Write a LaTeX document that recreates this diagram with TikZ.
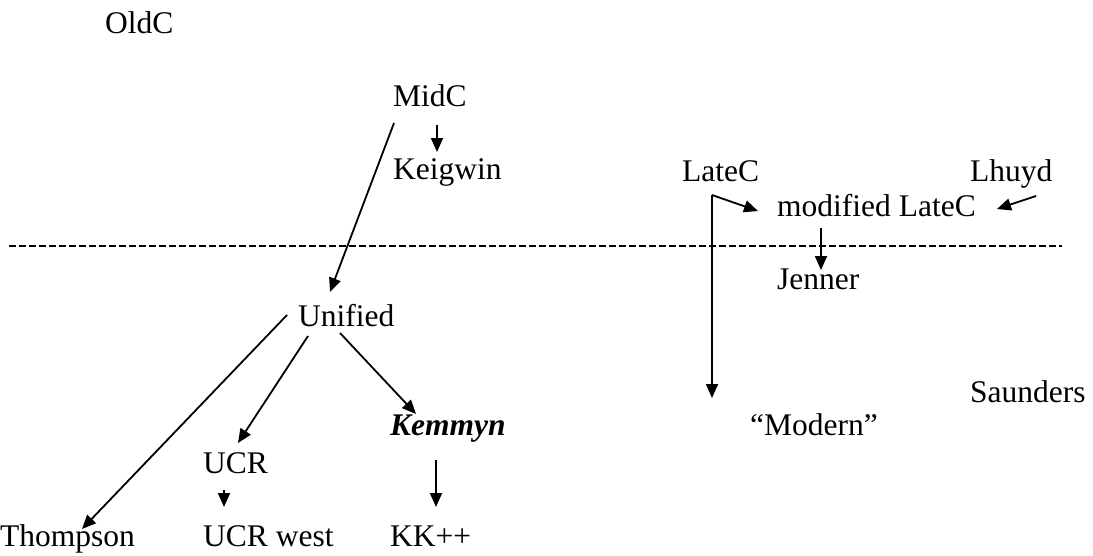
\documentclass[tikz,border=0pt]{standalone}
\usepackage{fontspec}
\setmainfont{Liberation Serif}
\usetikzlibrary{arrows.meta}
\begin{document}
\begin{tikzpicture}[x=1pt,y=-1pt,
  lbl/.style={anchor=base west,inner sep=0pt,font=\fontsize{31.5}{36}\selectfont},
  arr/.style={line width=1.8pt,-{Triangle[length=14pt,width=12pt]}},
  sep/.style={line width=2.2pt,dash pattern=on 7pt off 3pt}]
\useasboundingbox (0,0) rectangle (1093,555);
\node[lbl] (oldc) at (105,33) {OldC};
\node[lbl] (midc) at (393,106) {MidC};
\node[lbl] (keigwin) at (393,179) {Keigwin};
\node[lbl] (latec) at (682,181) {LateC};
\node[lbl] (lhuyd) at (970,181) {Lhuyd};
\node[lbl] (modlate) at (777,216) {modified LateC};
\node[lbl] (jenner) at (777,289) {Jenner};
\node[lbl] (unified) at (298,326) {Unified};
\node[lbl] (saunders) at (970,402) {Saunders};
\node[lbl] (modern) at (750,435) {“Modern”};
\node[lbl] (kemmyn) at (390,435) {\textbf{\textit{Kemmyn}}};
\node[lbl] (ucr) at (203,473) {UCR};
\node[lbl] (thompson) at (0,546) {Thompson};
\node[lbl] (ucrwest) at (203,546) {UCR west};
\node[lbl] (kk) at (390,546) {KK++};

\draw[sep] (9,246) -- (1062,246);

\draw[arr] ([shift={(44pt,-19pt)}]midc.base west) -- ([shift={(44pt,27pt)}]keigwin.base west);
\draw[arr] ([shift={(1pt,-17pt)}]midc.base west) -- ([shift={(32pt,34pt)}]unified.base west);
\draw[arr] ([shift={(-11pt,11pt)}]unified.base west) -- ([shift={(82pt,17pt)}]thompson.base west);
\draw[arr] ([shift={(10pt,-10pt)}]unified.base west) -- ([shift={(35pt,30pt)}]ucr.base west);
\draw[arr] ([shift={(42pt,-7pt)}]unified.base west) -- ([shift={(26pt,21pt)}]kemmyn.base west);
\draw[arr] ([shift={(21pt,-17pt)}]ucr.base west) -- ([shift={(21pt,39pt)}]ucrwest.base west);
\draw[arr] ([shift={(46pt,-25pt)}]kemmyn.base west) -- ([shift={(46pt,39pt)}]kk.base west);
\coordinate (lcorner) at ([shift={(30pt,-14pt)}]latec.base west);
\draw[arr] (lcorner) -- ([shift={(-38pt,37pt)}]modern.base west);
\draw[arr] (lcorner) -- ([shift={(-19pt,5pt)}]modlate.base west);
\draw[arr] ([shift={(44pt,-12pt)}]modlate.base west) -- ([shift={(44pt,19pt)}]jenner.base west);
\draw[arr] ([shift={(66pt,-15pt)}]lhuyd.base west) -- ([shift={(220pt,7pt)}]modlate.base west);
\end{tikzpicture}
\end{document}
